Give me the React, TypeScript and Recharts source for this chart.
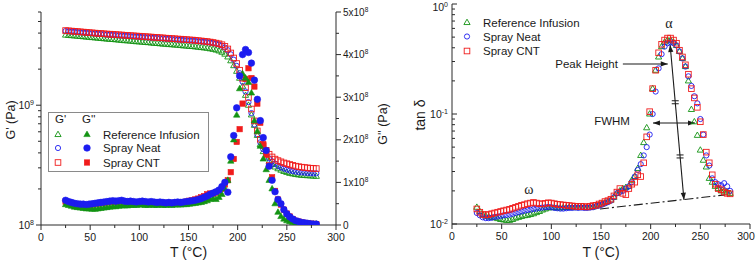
import React from 'react';
import { ScatterChart, Scatter, XAxis, YAxis, ReferenceLine } from 'recharts';

const SANS = '"Liberation Sans", Arial, Helvetica, sans-serif';
const SERIF = '"Liberation Serif", "DejaVu Serif", "Times New Roman", serif';
const AX = '#2a2a2a';
const INK = '#1a1a1a';

const GREEN = '#139313';
const BLUE = '#1c1cf0';
const RED = '#f01c1c';

// Sample names
const samples = ['Reference Infusion', 'Spray Neat', 'Spray CNT'];

// Temperature sweep, °C
const temps = [
  25, 28, 31, 34, 37, 40, 43, 46, 49, 52,
  55, 58, 61, 64, 67, 70, 73, 76, 79, 82,
  85, 88, 91, 94, 97, 100, 103, 106, 109, 112,
  115, 118, 121, 124, 127, 130, 133, 136, 139, 142,
  145, 148, 151, 154, 157, 160, 163, 166, 169, 172,
  175, 178, 181, 184, 187, 190, 193, 196, 199, 202,
  205, 208, 211, 214, 217, 220, 223, 226, 229, 232,
  235, 238, 241, 244, 247, 250, 253, 256, 259, 262,
  265, 268, 271, 274, 277, 280,
];

// Storage modulus G', in units of 1e8 Pa
const storageRef = [
  38.5, 38.3, 38.1, 37.9, 37.7, 37.5, 37.3, 37.1, 36.9, 36.7,
  36.5, 36.3, 36.1, 35.9, 35.7, 35.5, 35.4, 35.2, 35.0, 34.8,
  34.6, 34.5, 34.3, 34.1, 33.9, 33.8, 33.6, 33.4, 33.3, 33.1,
  32.9, 32.8, 32.6, 32.4, 32.3, 32.1, 32.0, 31.8, 31.7, 31.5,
  31.3, 31.2, 31.0, 30.9, 30.7, 30.5, 30.3, 30.1, 29.9, 29.6,
  29.3, 28.9, 28.4, 27.7, 26.7, 25.3, 23.5, 21.4, 19.2, 16.8,
  14.4, 12.1, 10.0, 8.3, 6.8, 5.6, 4.7, 4.1, 3.7, 3.4,
  3.2, 3.05, 2.95, 2.87, 2.8, 2.75, 2.7, 2.67, 2.64, 2.62,
  2.6, 2.59, 2.58, 2.57, 2.56, 2.55,
];
const storageNeat = [
  41.6, 41.4, 41.2, 41.0, 40.8, 40.6, 40.4, 40.2, 40.0, 39.8,
  39.6, 39.4, 39.3, 39.1, 38.9, 38.8, 38.6, 38.5, 38.3, 38.2,
  38.0, 37.9, 37.7, 37.6, 37.4, 37.3, 37.1, 37.0, 36.8, 36.7,
  36.5, 36.4, 36.2, 36.1, 35.9, 35.8, 35.6, 35.5, 35.3, 35.2,
  35.0, 34.9, 34.7, 34.6, 34.4, 34.2, 34.0, 33.8, 33.6, 33.3,
  33.0, 32.6, 32.1, 31.4, 30.3, 28.8, 26.6, 24.0, 21.3, 18.5,
  15.7, 13.0, 10.6, 8.6, 6.9, 5.7, 4.9, 4.3, 3.9, 3.6,
  3.4, 3.25, 3.12, 3.03, 2.96, 2.9, 2.85, 2.82, 2.79, 2.77,
  2.75, 2.74, 2.72, 2.71, 2.7, 2.7,
];
const storageCnt = [
  42.0, 41.8, 41.6, 41.4, 41.2, 41.0, 40.8, 40.6, 40.4, 40.2,
  40.0, 39.8, 39.7, 39.5, 39.3, 39.2, 39.0, 38.9, 38.7, 38.6,
  38.4, 38.3, 38.1, 38.0, 37.8, 37.7, 37.5, 37.4, 37.2, 37.1,
  36.9, 36.8, 36.6, 36.5, 36.3, 36.2, 36.0, 35.9, 35.7, 35.6,
  35.4, 35.3, 35.1, 35.0, 34.8, 34.6, 34.4, 34.2, 34.0, 33.7,
  33.4, 33.0, 32.6, 32.0, 31.0, 29.5, 27.3, 24.8, 22.3, 19.6,
  16.8, 14.0, 11.6, 9.3, 7.4, 6.1, 5.2, 4.6, 4.2, 3.9,
  3.7, 3.55, 3.45, 3.37, 3.3, 3.25, 3.2, 3.15, 3.1, 3.07,
  3.04, 3.02, 3.0, 2.98, 2.97, 2.96,
];

// Loss modulus G'', in units of 1e8 Pa
const lossRef = [
  0.48, 0.46, 0.44, 0.42, 0.41, 0.40, 0.39, 0.38, 0.38, 0.37,
  0.37, 0.38, 0.39, 0.40, 0.41, 0.42, 0.43, 0.43, 0.44, 0.45,
  0.45, 0.45, 0.46, 0.46, 0.46, 0.47, 0.47, 0.46, 0.46, 0.47,
  0.46, 0.46, 0.47, 0.46, 0.46, 0.47, 0.46, 0.47, 0.47, 0.47,
  0.48, 0.48, 0.49, 0.50, 0.51, 0.52, 0.53, 0.55, 0.57, 0.60,
  0.62, 0.60, 0.65, 0.72, 0.85, 1.05, 1.50, 2.00, 2.58, 3.20,
  3.55, 3.45, 3.35, 3.10, 2.45, 2.20, 1.85, 1.55, 1.30, 1.05,
  0.85, 0.50, 0.30, 0.20, 0.14, 0.10, 0.08, 0.06, 0.05, 0.04,
  0.04, 0.03, 0.03, 0.02, 0.02, 0.02,
];
const lossNeat = [
  0.58, 0.55, 0.53, 0.51, 0.50, 0.49, 0.49, 0.48, 0.49, 0.50,
  0.51, 0.52, 0.53, 0.54, 0.55, 0.56, 0.57, 0.56, 0.57, 0.58,
  0.56, 0.55, 0.56, 0.55, 0.54, 0.55, 0.56, 0.55, 0.54, 0.55,
  0.54, 0.53, 0.54, 0.53, 0.52, 0.53, 0.52, 0.53, 0.54, 0.53,
  0.54, 0.55, 0.56, 0.57, 0.58, 0.60, 0.62, 0.65, 0.68, 0.72,
  0.75, 0.78, 0.82, 0.90, 1.00, 0.77, 1.60, 2.10, 2.75, 3.50,
  4.00, 4.12, 4.05, 3.80, 3.40, 2.95, 2.45, 2.05, 1.75, 1.38,
  1.05, 0.78, 0.60, 0.50, 0.36, 0.26, 0.19, 0.14, 0.10, 0.08,
  0.06, 0.05, 0.04, 0.03, 0.02, 0.02,
];
const lossCnt = [
  0.55, 0.53, 0.51, 0.49, 0.48, 0.47, 0.47, 0.46, 0.47, 0.48,
  0.49, 0.50, 0.51, 0.52, 0.53, 0.54, 0.55, 0.54, 0.55, 0.56,
  0.55, 0.54, 0.55, 0.54, 0.53, 0.54, 0.55, 0.54, 0.53, 0.54,
  0.53, 0.52, 0.53, 0.52, 0.51, 0.52, 0.51, 0.52, 0.53, 0.53,
  0.54, 0.55, 0.57, 0.58, 0.60, 0.62, 0.65, 0.68, 0.72, 0.74,
  0.73, 0.76, 0.80, 0.85, 0.95, 1.05, 1.24, 1.55, 1.95, 2.25,
  2.85, 3.43, 3.68, 3.45, 3.25, 2.85, 2.40, 1.90, 1.65, 1.40,
  1.12, 0.80, 0.60, 0.48, 0.36, 0.27, 0.20, 0.14, 0.10, 0.08,
  0.06, 0.05, 0.04, 0.03, 0.03, 0.02,
];

// Loss factor tan δ
const tanRef = [
  0.0142, 0.0130, 0.0122, 0.0118, 0.0116, 0.0115, 0.0114, 0.0112, 0.0110, 0.0109,
  0.0108, 0.0108, 0.0110, 0.0113, 0.0115, 0.0117, 0.0119, 0.0120, 0.0122, 0.0124,
  0.0127, 0.0130, 0.0134, 0.0137, 0.0140, 0.0141, 0.0141, 0.0140, 0.0140, 0.0141,
  0.0141, 0.0142, 0.0141, 0.0142, 0.0141, 0.0142, 0.0142, 0.0141, 0.0142, 0.0143,
  0.0146, 0.0149, 0.0152, 0.0156, 0.0160, 0.0165, 0.0175, 0.0190, 0.0200, 0.0210,
  0.0215, 0.0220, 0.0250, 0.0270, 0.0320, 0.0420, 0.0550, 0.0750, 0.1000, 0.1700,
  0.2500, 0.3300, 0.4100, 0.4500, 0.4700, 0.4700, 0.4500, 0.4200, 0.3700, 0.3200,
  0.2700, 0.2000, 0.1100, 0.0850, 0.0640, 0.0470, 0.0380, 0.0330, 0.0260, 0.0240,
  0.0220, 0.0210, 0.0200, 0.0200, 0.0195, 0.0190,
];
const tanNeat = [
  0.0126, 0.0120, 0.0115, 0.0113, 0.0113, 0.0114, 0.0116, 0.0117, 0.0118, 0.0120,
  0.0121, 0.0122, 0.0124, 0.0126, 0.0128, 0.0130, 0.0132, 0.0134, 0.0135, 0.0137,
  0.0138, 0.0140, 0.0141, 0.0142, 0.0143, 0.0142, 0.0140, 0.0139, 0.0138, 0.0138,
  0.0139, 0.0140, 0.0140, 0.0141, 0.0140, 0.0141, 0.0140, 0.0140, 0.0141, 0.0142,
  0.0145, 0.0147, 0.0150, 0.0154, 0.0158, 0.0163, 0.0175, 0.0190, 0.0195, 0.0200,
  0.0210, 0.0220, 0.0240, 0.0270, 0.0310, 0.0350, 0.0420, 0.0500, 0.0650, 0.1000,
  0.1600, 0.2600, 0.3500, 0.4100, 0.4400, 0.4500, 0.4400, 0.4200, 0.3700, 0.3200,
  0.2700, 0.2200, 0.1800, 0.1450, 0.1250, 0.0900, 0.0650, 0.0420, 0.0340, 0.0260,
  0.0240, 0.0230, 0.0225, 0.0235, 0.0220, 0.0200,
];
const tanCnt = [
  0.0137, 0.0128, 0.0122, 0.0121, 0.0122, 0.0124, 0.0126, 0.0128, 0.0130, 0.0132,
  0.0134, 0.0136, 0.0139, 0.0142, 0.0145, 0.0148, 0.0150, 0.0153, 0.0155, 0.0157,
  0.0155, 0.0153, 0.0152, 0.0154, 0.0156, 0.0155, 0.0153, 0.0151, 0.0150, 0.0149,
  0.0148, 0.0147, 0.0146, 0.0145, 0.0144, 0.0145, 0.0144, 0.0143, 0.0145, 0.0147,
  0.0148, 0.0152, 0.0155, 0.0160, 0.0163, 0.0168, 0.0180, 0.0195, 0.0210, 0.0190,
  0.0185, 0.0210, 0.0230, 0.0240, 0.0280, 0.0270, 0.0360, 0.0620, 0.1050, 0.1700,
  0.2500, 0.3600, 0.4300, 0.4700, 0.4900, 0.4900, 0.4700, 0.4400, 0.3800, 0.3300,
  0.2800, 0.2300, 0.1700, 0.1400, 0.1150, 0.0850, 0.0650, 0.0450, 0.0360, 0.0280,
  0.0230, 0.0210, 0.0205, 0.0195, 0.0190, 0.0188,
];

// Axis ticks
const tempTicks = [0, 25, 50, 75, 100, 125, 150, 175, 200, 225, 250, 275, 300];
const storageTicks = [1e8, 2e8, 3e8, 4e8, 5e8, 6e8, 7e8, 8e8, 9e8, 1e9, 2e9, 3e9, 4e9, 5e9, 6e9];
const lossTicks = [0, 0.5e8, 1e8, 1.5e8, 2e8, 2.5e8, 3e8, 3.5e8, 4e8, 4.5e8, 5e8];
const tanTicks = [
  0.01, 0.02, 0.03, 0.04, 0.05, 0.06, 0.07, 0.08, 0.09,
  0.1, 0.2, 0.3, 0.4, 0.5, 0.6, 0.7, 0.8, 0.9, 1,
];

const MODULUS_UNIT = 1e8;

const toRows = (vals: number[], unit = 1) => temps.map((t, i) => ({ t, v: vals[i] * unit }));

type Kind = 'tri' | 'circ' | 'sq';

function Mark({ kind, filled, color, cx, cy }: { kind: Kind; filled: boolean; color: string; cx: number; cy: number }) {
  const sw = filled ? 0.6 : 0.9;
  const fill = filled ? color : 'none';
  if (kind === 'tri') {
    const s = filled ? 6.4 : 6.2;
    const h = s * 0.866;
    const pts = `${cx},${cy - h * 0.62} ${cx - s / 2},${cy + h * 0.38} ${cx + s / 2},${cy + h * 0.38}`;
    return <polygon points={pts} fill={fill} stroke={color} strokeWidth={sw} />;
  }
  if (kind === 'circ') {
    const r = filled ? 3.3 : 2.6;
    return <circle cx={cx} cy={cy} r={r} fill={fill} stroke={color} strokeWidth={sw} />;
  }
  const s = filled ? 5.4 : 5.6;
  return <rect x={cx - s / 2} y={cy - s / 2} width={s} height={s} fill={fill} stroke={color} strokeWidth={sw} />;
}

const markShape = (kind: Kind, filled: boolean, color: string) => (p: any) =>
  <Mark kind={kind} filled={filled} color={color} cx={p.cx} cy={p.cy} />;

type Side = 'bottom' | 'top' | 'left' | 'right';
const multipleOf = (m: number) => (v: number) => Math.abs(v / m - Math.round(v / m)) < 1e-6;
const isDecade = (v: number) => {
  const l = Math.log10(v);
  return Math.abs(l - Math.round(l)) < 1e-6;
};

function makeTick(
  side: Side,
  inward: boolean,
  isMajor: (v: number) => boolean,
  label?: (x: number, y: number, v: number) => React.ReactNode,
) {
  return (props: any) => {
    const { x, y, payload } = props;
    const v = Number(payload.value);
    const major = isMajor(v);
    const len = major ? 5 : 3;
    const d = inward ? -len : len;
    let x2 = x;
    let y2 = y;
    if (side === 'bottom') y2 = y + d;
    else if (side === 'top') y2 = y - d;
    else if (side === 'left') x2 = x - d;
    else x2 = x + d;
    return (
      <g>
        <line x1={x} y1={y} x2={x2} y2={y2} stroke={AX} strokeWidth={1} />
        {major && label ? label(x, y, v) : null}
      </g>
    );
  };
}

// Temperature labels; the last one is kept inside the page edge
const tempLabel = (maxCenter: number) => (x: number, y: number, v: number) => (
  <text x={Math.min(x, maxCenter)} y={y + 16} textAnchor="middle" fontSize={10.5} fontFamily={SANS} fill={INK}>
    {v}
  </text>
);

// Power-of-ten labels; the top one is kept below the page edge
const decadeLabel = (gap: number) => (x: number, y: number, v: number) => (
  <text x={x - gap} y={Math.max(y + 4, 11)} textAnchor="end" fontSize={10.5} fontFamily={SANS} fill={INK}>
    10
    <tspan dy={-4.5} fontSize={7}>
      {String(Math.round(Math.log10(v)))}
    </tspan>
  </text>
);

const lossLabel = (x: number, y: number, v: number) => {
  const n = Math.round(v / MODULUS_UNIT);
  return (
    <text x={x + 7} y={y + 3.6} textAnchor="start" fontSize={10} fontFamily={SANS} fill={INK}>
      {n === 0 ? (
        '0'
      ) : (
        <>
          {`${n}x10`}
          <tspan dy={-4} fontSize={6.5}>
            8
          </tspan>
        </>
      )}
    </text>
  );
};

const axisLine = { stroke: AX, strokeWidth: 1 };

function ModulusChart() {
  return (
    <ScatterChart width={395} height={260} margin={{ top: 12, right: 0, bottom: 0, left: 0 }}>
      <XAxis
        xAxisId="b"
        dataKey="t"
        type="number"
        domain={[0, 300]}
        ticks={tempTicks}
        interval={0}
        tickLine={false}
        tickSize={0}
        tickMargin={0}
        axisLine={axisLine}
        tick={makeTick('bottom', false, multipleOf(50), tempLabel(1000))}
        height={35}
        allowDataOverflow
      />
      <XAxis
        xAxisId="top"
        orientation="top"
        dataKey="t"
        type="number"
        domain={[0, 300]}
        ticks={tempTicks}
        interval={0}
        tickLine={false}
        tickSize={0}
        tickMargin={0}
        axisLine={axisLine}
        tick={makeTick('top', true, multipleOf(50))}
        height={0}
        allowDataOverflow
      />
      <YAxis
        yAxisId="storage"
        dataKey="v"
        type="number"
        scale="log"
        domain={[1e8, 6e9]}
        ticks={storageTicks}
        interval={0}
        tickLine={false}
        tickSize={0}
        tickMargin={0}
        axisLine={axisLine}
        tick={makeTick('left', false, isDecade, decadeLabel(7))}
        width={41}
        allowDataOverflow
      />
      <YAxis
        yAxisId="loss"
        orientation="right"
        dataKey="v"
        type="number"
        domain={[0, 5e8]}
        ticks={lossTicks}
        interval={0}
        tickLine={false}
        tickSize={0}
        tickMargin={0}
        axisLine={axisLine}
        tick={makeTick('right', false, multipleOf(1e8), lossLabel)}
        width={59}
        allowDataOverflow
      />
      <Scatter xAxisId="b" yAxisId="storage" name={samples[0]} data={toRows(storageRef, MODULUS_UNIT)} shape={markShape('tri', false, GREEN)} isAnimationActive={false} />
      <Scatter xAxisId="b" yAxisId="storage" name={samples[1]} data={toRows(storageNeat, MODULUS_UNIT)} shape={markShape('circ', false, BLUE)} isAnimationActive={false} />
      <Scatter xAxisId="b" yAxisId="storage" name={samples[2]} data={toRows(storageCnt, MODULUS_UNIT)} shape={markShape('sq', false, RED)} isAnimationActive={false} />
      <Scatter xAxisId="b" yAxisId="loss" name={samples[2]} data={toRows(lossCnt, MODULUS_UNIT)} shape={markShape('sq', true, RED)} isAnimationActive={false} />
      <Scatter xAxisId="b" yAxisId="loss" name={samples[0]} data={toRows(lossRef, MODULUS_UNIT)} shape={markShape('tri', true, GREEN)} isAnimationActive={false} />
      <Scatter xAxisId="b" yAxisId="loss" name={samples[1]} data={toRows(lossNeat, MODULUS_UNIT)} shape={markShape('circ', true, BLUE)} isAnimationActive={false} />
    </ScatterChart>
  );
}

// Arrow drawn along a reference segment, with optional heads and equal-length marks
const arrowShape = (opts: { start?: boolean; end?: boolean; marks?: number[] }) => (p: any) => {
  const { x1, y1, x2, y2 } = p;
  const dx = x2 - x1;
  const dy = y2 - y1;
  const L = Math.hypot(dx, dy) || 1;
  const ux = dx / L;
  const uy = dy / L;
  const head = (tx: number, ty: number, dirx: number, diry: number) => {
    const bx = tx - dirx * 7;
    const by = ty - diry * 7;
    const nx = -diry;
    const ny = dirx;
    return (
      <polygon
        points={`${tx},${ty} ${bx + nx * 2.6},${by + ny * 2.6} ${bx - nx * 2.6},${by - ny * 2.6}`}
        fill={INK}
      />
    );
  };
  return (
    <g>
      <line x1={x1} y1={y1} x2={x2} y2={y2} stroke={INK} strokeWidth={1.1} />
      {opts.start ? head(x1, y1, -ux, -uy) : null}
      {opts.end ? head(x2, y2, ux, uy) : null}
      {(opts.marks || []).map((f, i) => {
        const mx = x1 + dx * f;
        const my = y1 + dy * f;
        return (
          <g key={i}>
            <line x1={mx - 3.5} y1={my - 1.5} x2={mx + 3.5} y2={my - 1.5} stroke={INK} strokeWidth={1} />
            <line x1={mx - 3.5} y1={my + 1.5} x2={mx + 3.5} y2={my + 1.5} stroke={INK} strokeWidth={1} />
          </g>
        );
      })}
    </g>
  );
};

const textShape = (text: string, anchor: 'start' | 'middle' | 'end', font: string, size: number) => (p: any) => (
  <text x={p.cx} y={p.cy} textAnchor={anchor} dominantBaseline="central" fontFamily={font} fontSize={size} fill={INK}>
    {text}
  </text>
);

// Annotation anchors in (°C, tan δ)
const alphaAt = [{ t: 218.4, v: 0.671 }];
const omegaAt = [{ t: 77.3, v: 0.0204 }];
const peakTextAt = [{ t: 167, v: 0.285 }];
const fwhmTextAt = [{ t: 179.1, v: 0.0855 }];
const baselineSeg = [{ x: 149, y: 0.0137 }, { x: 275, y: 0.0184 }];
const peakArrowSeg = [{ x: 172, y: 0.285 }, { x: 217.2, y: 0.285 }];
const heightSeg = [{ x: 219.6, y: 0.424 }, { x: 233.5, y: 0.0166 }];
const fwhmSeg = [{ x: 202.3, y: 0.0828 }, { x: 244.6, y: 0.0828 }];

function TanDeltaChart() {
  return (
    <ScatterChart width={361} height={260} margin={{ top: 4, right: 6, bottom: 0, left: 0 }}>
      <XAxis
        xAxisId="b"
        dataKey="t"
        type="number"
        domain={[0, 300]}
        ticks={tempTicks}
        interval={0}
        tickLine={false}
        tickSize={0}
        tickMargin={0}
        axisLine={axisLine}
        tick={makeTick('bottom', false, multipleOf(50), tempLabel(351))}
        height={36}
        allowDataOverflow
      />
      <XAxis
        xAxisId="top"
        orientation="top"
        dataKey="t"
        type="number"
        domain={[0, 300]}
        ticks={tempTicks}
        interval={0}
        tickLine={false}
        tickSize={0}
        tickMargin={0}
        axisLine={axisLine}
        tick={makeTick('top', true, multipleOf(50))}
        height={0}
        allowDataOverflow
      />
      <YAxis
        yAxisId="tan"
        dataKey="v"
        type="number"
        scale="log"
        domain={[0.01, 1]}
        ticks={tanTicks}
        interval={0}
        tickLine={false}
        tickSize={0}
        tickMargin={0}
        axisLine={axisLine}
        tick={makeTick('left', true, isDecade, decadeLabel(4))}
        width={57}
        allowDataOverflow
      />
      <YAxis
        yAxisId="mirror"
        orientation="right"
        dataKey="v"
        type="number"
        scale="log"
        domain={[0.01, 1]}
        ticks={tanTicks}
        interval={0}
        tickLine={false}
        tickSize={0}
        tickMargin={0}
        axisLine={axisLine}
        tick={makeTick('right', true, isDecade)}
        width={0}
        allowDataOverflow
      />
      <ReferenceLine xAxisId="b" yAxisId="tan" segment={baselineSeg} stroke={INK} strokeWidth={1.1} strokeDasharray="9 3 2 3" />
      <Scatter xAxisId="b" yAxisId="tan" name={samples[0]} data={toRows(tanRef)} shape={markShape('tri', false, GREEN)} isAnimationActive={false} />
      <Scatter xAxisId="b" yAxisId="tan" name={samples[1]} data={toRows(tanNeat)} shape={markShape('circ', false, BLUE)} isAnimationActive={false} />
      <Scatter xAxisId="b" yAxisId="tan" name={samples[2]} data={toRows(tanCnt)} shape={markShape('sq', false, RED)} isAnimationActive={false} />
      <ReferenceLine xAxisId="b" yAxisId="tan" segment={peakArrowSeg} shape={arrowShape({ end: true })} />
      <ReferenceLine xAxisId="b" yAxisId="tan" segment={heightSeg} shape={arrowShape({ start: true, end: true, marks: [0.37, 0.72] })} />
      <ReferenceLine xAxisId="b" yAxisId="tan" segment={fwhmSeg} shape={arrowShape({ start: true, end: true })} />
      <Scatter xAxisId="b" yAxisId="tan" data={alphaAt} shape={textShape('α', 'middle', SERIF, 14)} isAnimationActive={false} />
      <Scatter xAxisId="b" yAxisId="tan" data={omegaAt} shape={textShape('ω', 'middle', SERIF, 14)} isAnimationActive={false} />
      <Scatter xAxisId="b" yAxisId="tan" data={peakTextAt} shape={textShape('Peak Height', 'end', SANS, 11.5)} isAnimationActive={false} />
      <Scatter xAxisId="b" yAxisId="tan" data={fwhmTextAt} shape={textShape('FWHM', 'end', SANS, 11.5)} isAnimationActive={false} />
    </ScatterChart>
  );
}

function Overlay() {
  const t = { fontFamily: SANS, fill: INK } as const;
  const colors = [GREEN, BLUE, RED];
  const kinds: Kind[] = ['tri', 'circ', 'sq'];
  const leftRows = [134.5, 148, 162.5];
  const rightRows = [22.5, 36.5, 51];
  return (
    <svg width={756} height={260} style={{ position: 'absolute', left: 0, top: 0, pointerEvents: 'none' }}>
      <text x={188.5} y={257} textAnchor="middle" fontSize={14} {...t}>T (°C)</text>
      <text x={601} y={257} textAnchor="middle" fontSize={14} {...t}>T (°C)</text>
      <text transform="translate(11,120) rotate(-90)" textAnchor="middle" dominantBaseline="central" fontSize={12.5} {...t}>G'  (Pa)</text>
      <text transform="translate(383,124) rotate(-90)" textAnchor="middle" dominantBaseline="central" fontSize={12.5} {...t}>G''  (Pa)</text>
      <text transform="translate(420,115) rotate(-90)" textAnchor="middle" dominantBaseline="central" fontSize={14} {...t}>tan  δ</text>

      <rect x={48.5} y={112.5} width={160} height={59} fill="#fff" stroke="#8a8a8a" strokeWidth={1} />
      <text x={55} y={122.5} fontSize={11.5} {...t}>G'</text>
      <text x={82} y={122.5} fontSize={11.5} {...t}>G''</text>
      {samples.map((s, i) => (
        <g key={s}>
          <Mark kind={kinds[i]} filled={false} color={colors[i]} cx={58} cy={leftRows[i]} />
          <Mark kind={kinds[i]} filled color={colors[i]} cx={87} cy={leftRows[i]} />
          <text x={103} y={leftRows[i]} dominantBaseline="central" fontSize={11.5} {...t}>{s}</text>
        </g>
      ))}

      {samples.map((s, i) => (
        <g key={`r-${s}`}>
          <Mark kind={kinds[i]} filled={false} color={colors[i]} cx={467} cy={rightRows[i]} />
          <text x={483} y={rightRows[i]} dominantBaseline="central" fontSize={11.5} {...t}>{s}</text>
        </g>
      ))}
    </svg>
  );
}

export default function App() {
  return (
    <div style={{ position: 'absolute', left: 0, top: 0, width: 756, height: 260, background: '#fff', overflow: 'hidden' }}>
      <div style={{ position: 'absolute', left: 0, top: 0 }}>
        <ModulusChart />
      </div>
      <div style={{ position: 'absolute', left: 395, top: 0 }}>
        <TanDeltaChart />
      </div>
      <Overlay />
    </div>
  );
}
